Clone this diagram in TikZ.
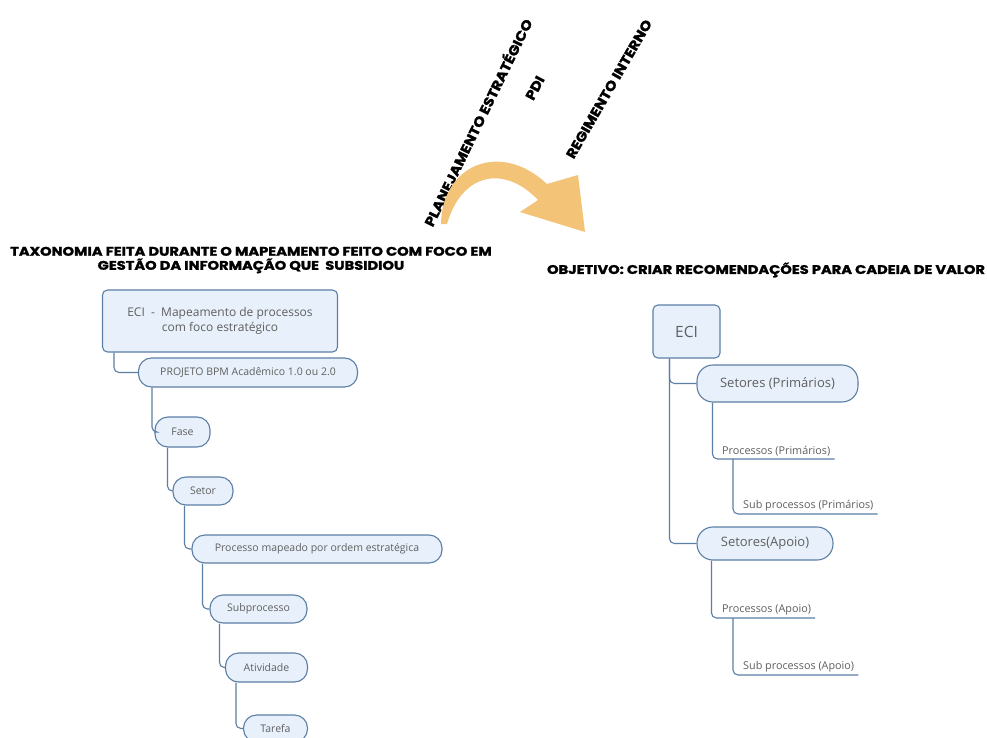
\documentclass[tikz,border=0pt]{standalone}
\usepackage{fontspec}
\setmainfont{Open Sans}
\newfontfamily\titlefont{Poppins}[BoldFeatures={FakeBold=1.5}]
\begin{document}
\definecolor{nodefill}{RGB}{232,241,251}
\definecolor{nodedraw}{RGB}{92,127,166}
\definecolor{txtgray}{RGB}{95,95,95}
\definecolor{arroworange}{RGB}{243,196,120}
\begin{tikzpicture}[x=1pt,y=-1pt,
  base/.style={draw=nodedraw,fill=nodefill,line width=1.1pt,text=txtgray,inner sep=0pt,align=center},
  boxnode/.style={base,rounded corners=5pt},
  pill/.style={base,rounded corners=13pt,font=\fontsize{10.5}{12}\selectfont},
  bigpill/.style={base,rounded corners=16pt,font=\fontsize{13}{15}\selectfont},
  conn/.style={draw=nodedraw,line width=1.1pt,rounded corners=5pt},
  uline/.style={text=txtgray,inner xsep=4pt,inner ysep=3pt,anchor=south west,font=\fontsize{10.8}{12}\selectfont},
  title/.style={font=\titlefont\bfseries\fontsize{12.5}{11}\selectfont,inner sep=0pt},
  rot/.style={font=\titlefont\bfseries\fontsize{13.5}{14}\selectfont,inner sep=0pt}
]
\useasboundingbox (0,0) rectangle (987,738);
\fill[white] (0,0) rectangle (987,738);

% top rotated labels
\node[rot,rotate=64] (plan) at (477,122) {\scalebox{1.12}[1]{PLANEJAMENTO ESTRATÉGICO}};
\node[rot,rotate=62] (pdi) at (535,88) {\scalebox{1.12}[1]{PDI}};
\node[rot,rotate=60] (reg) at (609,89) {\scalebox{1.12}[1]{REGIMENTO INTERNO}};

% orange curved arrow
\fill[arroworange] (441,224) .. controls (442,165) and (500,140) .. (547,184)
  -- (578,175) -- (585,232) -- (520,212) -- (538,200)
  .. controls (505,165) and (462,172) .. (447,224) -- cycle;

% titles
\node[title] (tl) at (251,260) {\scalebox{1.17}[1]{\begin{tabular}{@{}c@{}}TAXONOMIA FEITA DURANTE O MAPEAMENTO FEITO COM FOCO EM\\[-0.5pt]GESTÃO DA INFORMAÇÃO QUE\ \ SUBSIDIOU\end{tabular}}};
\node[title] (tr) at (766,270) {\scalebox{1.17}[1]{OBJETIVO: CRIAR RECOMENDAÇÕES PARA CADEIA DE VALOR}};

% left tree
\node[boxnode,minimum width=235pt,minimum height=62pt,font=\fontsize{12}{15}\selectfont] (eciL) at (220,321) {ECI\ \ -\ \ Mapeamento de processos\\com foco estratégico};
\node[pill,minimum width=219pt,minimum height=29pt] (proj) at (248,372.5) {PROJETO BPM Acadêmico 1.0 ou 2.0};
\node[pill,minimum width=55pt,minimum height=30pt] (fase) at (182.5,432) {Fase};
\node[pill,minimum width=60pt,minimum height=28pt] (setor) at (203,491) {Setor};
\node[pill,minimum width=250pt,minimum height=28pt] (proc) at (317,549) {Processo mapeado por ordem estratégica};
\node[pill,minimum width=97pt,minimum height=28pt] (subp) at (258.5,609) {Subprocesso};
\node[pill,minimum width=82pt,minimum height=29pt] (ativ) at (266.5,667.5) {Atividade};
\node[pill,minimum width=64pt,minimum height=27pt] (tarefa) at (275.5,728.5) {Tarefa};

\draw[conn] ([xshift=12pt]eciL.south west) |- (proj.west);
\draw[conn] ([xshift=14pt]proj.south west) |- (fase.west);
\draw[conn] ([xshift=13pt]fase.south west) |- (setor.west);
\draw[conn] ([xshift=12pt]setor.south west) |- (proc.west);
\draw[conn] ([xshift=11pt]proc.south west) |- (subp.west);
\draw[conn] ([xshift=10pt]subp.south west) |- (ativ.west);
\draw[conn] ([xshift=11pt]ativ.south west) |- (tarefa.west);

% right tree
\node[boxnode,minimum width=67pt,minimum height=53pt,font=\fontsize{15.5}{18}\selectfont] (eciR) at (686.5,331.5) {ECI};
\node[bigpill,minimum width=161pt,minimum height=37pt] (setP) at (777.5,383.5) {Setores (Primários)};
\node[bigpill,minimum width=136pt,minimum height=33pt] (setA) at (765,543.5) {Setores(Apoio)};

\node[uline] (pP) at (718,459) {Processos (Primários)};
\node[uline] (sP) at (739,514) {Sub processos (Primários)};
\node[uline] (pA) at (718,618) {Processos (Apoio)};
\node[uline] (sA) at (739,675) {Sub processos (Apoio)};

\draw[conn] ([xshift=17pt]eciR.south west) |- (setP.west);
\draw[conn] ([xshift=17pt]eciR.south west) |- (setA.west);
\draw[conn] ([xshift=16pt]setP.south west) |- (pP.south east);
\draw[conn] ([xshift=15pt]pP.south west) |- (sP.south east);
\draw[conn] ([xshift=15pt]setA.south west) |- (pA.south east);
\draw[conn] ([xshift=15pt]pA.south west) |- (sA.south east);
\end{tikzpicture}
\end{document}
